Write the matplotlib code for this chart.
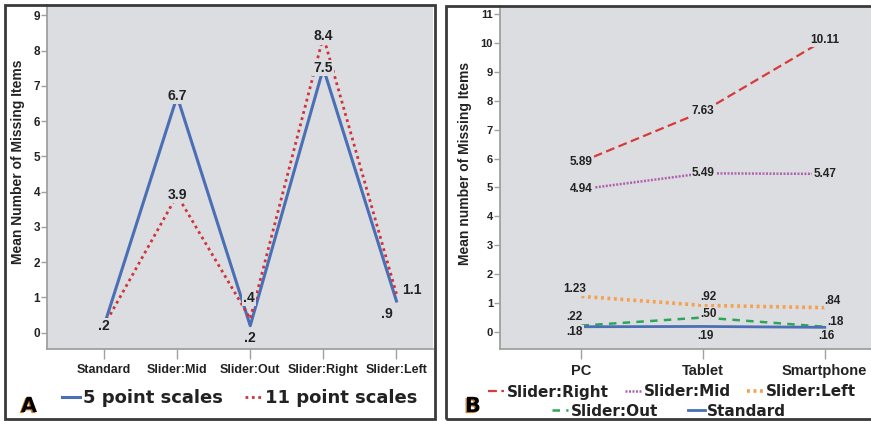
import matplotlib
matplotlib.use("Agg")
import matplotlib.pyplot as plt
import matplotlib.patches as patches
import matplotlib.patheffects as pe
from matplotlib.lines import Line2D

plt.rcParams['font.family'] = ['Liberation Sans', 'DejaVu Sans']

# ---- panel A data ----
scale_types = ['Standard', 'Slider:Mid', 'Slider:Out', 'Slider:Right', 'Slider:Left']
five_point = [0.2, 6.7, 0.2, 7.5, 0.9]
eleven_point = [0.2, 3.9, 0.4, 8.4, 1.1]

# ---- panel B data ----
devices = ['PC', 'Tablet', 'Smartphone']
slider_right = [5.89, 7.63, 10.11]
slider_mid = [4.94, 5.49, 5.47]
slider_left = [1.23, 0.92, 0.84]
slider_out = [0.22, 0.50, 0.18]
standard = [0.18, 0.19, 0.16]

BG = '#dcdde0'
SPINE = '#a0a0a0'
TXT = '#222222'
BLUE = '#4a6fb5'
RED = '#d0343a'


def fmt(v, nd):
    return f"{v:.{nd}f}".lstrip('0') if v < 1 else f"{v:.{nd}f}"


def style_axes(ax, xsize, ysize):
    ax.set_facecolor(BG)
    for s in ['top', 'right']:
        ax.spines[s].set_visible(False)
    for s in ['left', 'bottom']:
        ax.spines[s].set_color(SPINE)
        ax.spines[s].set_linewidth(1.3)
    ax.tick_params(axis='y', length=4, width=1, color=SPINE, pad=1,
                   labelsize=ysize, labelcolor=TXT)
    ax.tick_params(axis='x', length=7, width=1, color=SPINE, pad=4,
                   labelsize=xsize, labelcolor=TXT)
    for lab in ax.get_xticklabels() + ax.get_yticklabels():
        lab.set_fontweight('bold')


def add_labels(ax, xs, ys, nd, offsets, size):
    # offsets in pixels (dx, dy), converted to points
    for x, y, (dx, dy) in zip(xs, ys, offsets):
        ax.annotate(fmt(y, nd), (x, y), xytext=(dx * 0.72, dy * 0.72),
                    textcoords='offset points', ha='center', va='center',
                    fontsize=size, fontweight='bold', color=TXT, zorder=5,
                    bbox=dict(boxstyle='square,pad=0.08', fc=BG, ec='none'))


fig = plt.figure(figsize=(8.71, 4.21), dpi=100)

# panel frames
fig.patches.append(patches.Rectangle((5 / 871, 2 / 421), 430 / 871, 414 / 421,
                                     transform=fig.transFigure, fill=False,
                                     ec='#3a3a3a', lw=2))
fig.patches.append(patches.Rectangle((446 / 871, 2 / 421), 430 / 871, 413 / 421,
                                     transform=fig.transFigure, fill=False,
                                     ec='#3a3a3a', lw=2))

# ---------------- Panel A ----------------
axA = fig.add_axes([47 / 871, 72 / 421, 386 / 871, 344 / 421])
xa = list(range(len(scale_types)))
axA.plot(xa, five_point, color=BLUE, lw=2.2, zorder=3)
axA.plot(xa, eleven_point, color=RED, lw=2, linestyle=(0, (1, 1.3)), zorder=3)
axA.set_xlim(-0.78, 4.5)
axA.set_ylim(-0.46, 9.29)
axA.set_yticks(range(0, 10))
axA.set_xticks(xa)
axA.set_xticklabels(scale_types)
style_axes(axA, 9, 8.5)
add_labels(axA, xa, five_point, 1,
           [(0, 0), (0, 0), (0, -12), (0, 0), (-10, -13)], 10)
add_labels(axA, xa, eleven_point, 1,
           [(0, 0), (0, 0), (-1, 21), (0, 0), (15, 4)], 10)
axA.set_ylabel('Mean Number of Missing Items', fontsize=10, fontweight='bold',
               color=TXT)
axA.yaxis.set_label_coords(-0.058, 0.544)

legA = fig.legend(handles=[Line2D([], [], color=BLUE, lw=2.2),
                           Line2D([], [], color=RED, lw=2, linestyle=(0, (1, 1.3)))],
                  labels=['5 point scales', '11 point scales'],
                  loc='center', bbox_to_anchor=(240 / 871, 1 - 398 / 421),
                  ncol=2, frameon=False, handlelength=1.0, handletextpad=0.15,
                  columnspacing=1.2,
                  prop=dict(family='DejaVu Sans', weight='bold', size=13))
for t in legA.get_texts():
    t.set_color(TXT)

# ---------------- Panel B ----------------
axB = fig.add_axes([500 / 871, 72 / 421, 371 / 871, 343 / 421])
xb = list(range(len(devices)))
series_b = [
    ('Slider:Right', slider_right, dict(color='#d83a3a', lw=1.6, linestyle=(0, (4, 2)))),
    ('Slider:Mid', slider_mid, dict(color='#b062b0', lw=1.8, linestyle=(0, (0.8, 0.6)))),
    ('Slider:Left', slider_left, dict(color='#f5a04e', lw=2.6, linestyle=(0, (0.8, 1.0)))),
    ('Slider:Out', slider_out, dict(color='#2aa858', lw=1.8, linestyle=(0, (3, 2.5)))),
    ('Standard', standard, dict(color=BLUE, lw=2.0)),
]
for name, vals, kw in series_b:
    axB.plot(xb, vals, zorder=3, **kw)
axB.set_xlim(-0.67, 2.38)
axB.set_ylim(-0.59, 11.28)
axB.set_yticks(range(0, 12))
axB.set_xticks(xb)
axB.set_xticklabels(devices)
style_axes(axB, 10.5, 8)
add_labels(axB, xb, slider_right, 2, [(0, 0), (0, 0), (0, 0)], 8.5)
add_labels(axB, xb, slider_mid, 2, [(0, 0), (0, 0), (0, 0)], 8.5)
add_labels(axB, xb, slider_left, 2, [(-7, 7), (5, 8), (8, 7)], 8.5)
add_labels(axB, xb, slider_out, 2, [(-7, 9), (5, 4), (11, 5)], 8.5)
add_labels(axB, xb, standard, 2, [(-7, -5), (2, -10), (2, -9)], 8.5)
axB.set_ylabel('Mean number of Missing Items', fontsize=10, fontweight='bold',
               color=TXT)
axB.yaxis.set_label_coords(-0.075, 0.54)

handles_b = {name: Line2D([], [], **kw) for name, vals, kw in series_b}
legprop = dict(family='DejaVu Sans', weight='bold', size=11)
row1 = ['Slider:Right', 'Slider:Mid', 'Slider:Left']
row2 = ['Slider:Out', 'Standard']
legB1 = fig.legend(handles=[handles_b[n] for n in row1], labels=row1,
                   loc='center', bbox_to_anchor=(672 / 871, 1 - 392 / 421),
                   ncol=3, frameon=False, handlelength=1.05, handletextpad=0.15,
                   columnspacing=1.1, prop=legprop)
legB2 = fig.legend(handles=[handles_b[n] for n in row2], labels=row2,
                   loc='center', bbox_to_anchor=(669 / 871, 1 - 411 / 421),
                   ncol=2, frameon=False, handlelength=1.05, handletextpad=0.15,
                   columnspacing=2.0, prop=legprop)
for leg in (legB1, legB2):
    for t in leg.get_texts():
        t.set_color(TXT)

# panel letters
for letter, x in [('A', 29), ('B', 473)]:
    fig.text(x / 871, 1 - 406 / 421, letter, ha='center', va='center',
             fontsize=15, fontweight='heavy', family='DejaVu Sans', color='black',
             path_effects=[pe.withSimplePatchShadow(offset=(-1, -0.8),
                                                    shadow_rgbFace='#c87820',
                                                    alpha=1.0)])

fig.savefig('out.png', dpi=100)
